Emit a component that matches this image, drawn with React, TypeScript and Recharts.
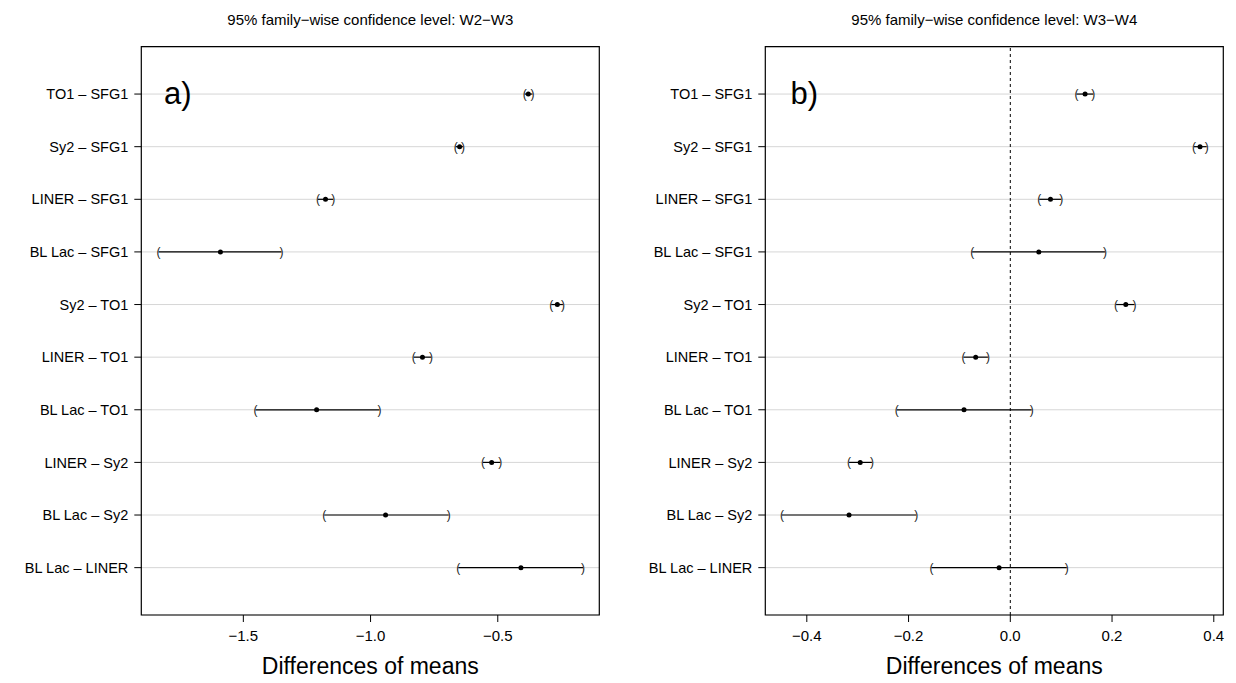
import {
  ScatterChart,
  Scatter,
  XAxis,
  YAxis,
  CartesianGrid,
  ErrorBar,
  ReferenceLine,
  ReferenceArea,
} from 'recharts'

const COMPARISONS = [
  'TO1 – SFG1',
  'Sy2 – SFG1',
  'LINER – SFG1',
  'BL Lac – SFG1',
  'Sy2 – TO1',
  'LINER – TO1',
  'BL Lac – TO1',
  'LINER – Sy2',
  'BL Lac – Sy2',
  'BL Lac – LINER',
]

// W2-W3
const DIFF_A = [-0.38, -0.65, -1.177, -1.59, -0.266, -0.796, -1.212, -0.524, -0.941, -0.409]
const LWR_A = [-0.394, -0.665, -1.207, -1.833, -0.29, -0.83, -1.452, -0.558, -1.182, -0.655]
const UPR_A = [-0.364, -0.637, -1.147, -1.35, -0.244, -0.762, -0.965, -0.49, -0.693, -0.165]
const TICKS_A = [-1.5, -1.0, -0.5]

// W3-W4
const DIFF_B = [0.147, 0.373, 0.079, 0.056, 0.227, -0.068, -0.091, -0.295, -0.317, -0.022]
const LWR_B = [0.13, 0.361, 0.057, -0.075, 0.208, -0.092, -0.223, -0.317, -0.449, -0.155]
const UPR_B = [0.163, 0.386, 0.1, 0.186, 0.244, -0.044, 0.042, -0.272, -0.185, 0.111]
const TICKS_B = [-0.4, -0.2, 0.0, 0.2, 0.4]

const ROW_TICKS = COMPARISONS.map((_, i) => i + 1)
const Y_DOMAIN: [number, number] = [0.1, 10.9]
const FONT = '"Liberation Sans", Arial, Helvetica, sans-serif'

const fmt = (v: number) => v.toFixed(1).replace('-', '\u2212')

interface PanelProps {
  diff: number[]
  lwr: number[]
  upr: number[]
  ticks: number[]
  domain: [number, number]
  width: number
  axisWidth: number
  rightMargin: number
  zeroLine?: boolean
}

// R marks the interval ends with pch "(" and ")"
const Paren = (ch: string) => (props: any) => (
  <text
    x={props.cx}
    y={props.cy}
    textAnchor="middle"
    dominantBaseline="central"
    fontSize={12}
    fill="#222"
  >
    {ch}
  </text>
)

const Dot = (props: any) => <circle cx={props.cx} cy={props.cy} r={2.5} fill="#000" />

function Panel({ diff, lwr, upr, ticks, domain, width, axisWidth, rightMargin, zeroLine }: PanelProps) {
  const mids = diff.map((d, i) => ({ x: d, y: i + 1, err: [d - lwr[i], upr[i] - d] }))
  const lows = lwr.map((v, i) => ({ x: v, y: i + 1 }))
  const highs = upr.map((v, i) => ({ x: v, y: i + 1 }))
  return (
    <ScatterChart width={width} height={683} margin={{ top: 46.7, right: rightMargin, bottom: 0, left: 0 }}>
      <CartesianGrid vertical={false} stroke="#d6d6d6" />
      <XAxis
        type="number"
        dataKey="x"
        domain={domain}
        allowDataOverflow
        ticks={ticks}
        interval={0}
        tickFormatter={fmt}
        axisLine={false}
        tickSize={7}
        tickMargin={8}
        tickLine={{ stroke: '#000' }}
        tick={{ fontSize: 15, fill: '#000' }}
        height={68}
        label={{ value: 'Differences of means', position: 'insideBottom', offset: 9, fontSize: 23, fill: '#000' }}
      />
      <YAxis
        type="number"
        dataKey="y"
        domain={Y_DOMAIN}
        reversed
        allowDataOverflow
        ticks={ROW_TICKS}
        interval={0}
        tickFormatter={(v: number) => COMPARISONS[v - 1]}
        axisLine={false}
        tickSize={7}
        tickMargin={6}
        tickLine={{ stroke: '#000' }}
        tick={{ fontSize: 14.5, fill: '#000' }}
        width={axisWidth}
      />
      {zeroLine && <ReferenceLine x={0} stroke="#000" strokeDasharray="3 3" />}
      <Scatter data={lows} shape={Paren('(')} isAnimationActive={false} />
      <Scatter data={highs} shape={Paren(')')} isAnimationActive={false} />
      <Scatter data={mids} shape={Dot} isAnimationActive={false}>
        <ErrorBar dataKey="err" direction="x" width={0} stroke="#000" strokeWidth={1.2} />
      </Scatter>
      <ReferenceArea
        x1={domain[0]}
        x2={domain[1]}
        y1={Y_DOMAIN[0]}
        y2={Y_DOMAIN[1]}
        fill="none"
        fillOpacity={0}
        stroke="#000"
        strokeWidth={1.2}
        ifOverflow="visible"
      />
    </ScatterChart>
  )
}

export default function App() {
  return (
    <div
      style={{
        position: 'absolute',
        left: 0,
        top: 0,
        width: 1236,
        height: 683,
        background: '#fff',
        fontFamily: FONT,
      }}
    >
      <div style={{ position: 'absolute', left: 0, top: 0 }}>
        <Panel
          diff={DIFF_A}
          lwr={LWR_A}
          upr={UPR_A}
          ticks={TICKS_A}
          domain={[-1.901, -0.101]}
          width={620}
          axisWidth={141.3}
          rightMargin={20.7}
        />
      </div>
      <div style={{ position: 'absolute', left: 620, top: 0 }}>
        <Panel
          diff={DIFF_B}
          lwr={LWR_B}
          upr={UPR_B}
          ticks={TICKS_B}
          domain={[-0.4816, 0.4187]}
          width={616}
          axisWidth={145.3}
          rightMargin={12.7}
          zeroLine
        />
      </div>
      <svg
        width={1236}
        height={683}
        style={{ position: 'absolute', left: 0, top: 0, pointerEvents: 'none' }}
      >
        <text x={370.3} y={25} textAnchor="middle" fontSize={15} fill="#000">
          95% family{'\u2212'}wise confidence level: W2{'\u2212'}W3
        </text>
        <text x={994.3} y={25} textAnchor="middle" fontSize={15} fill="#000">
          95% family{'\u2212'}wise confidence level: W3{'\u2212'}W4
        </text>
        <text x={164} y={103.5} fontSize={31} fill="#000">
          a)
        </text>
        <text x={790.5} y={103.5} fontSize={31} fill="#000">
          b)
        </text>
      </svg>
    </div>
  )
}
